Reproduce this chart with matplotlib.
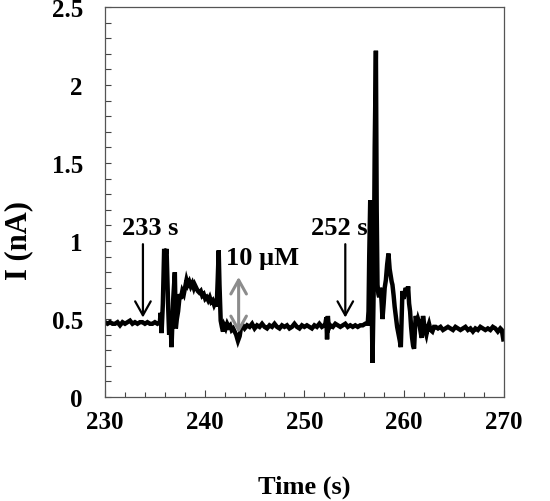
import matplotlib
matplotlib.use("Agg")
import matplotlib.pyplot as plt
from matplotlib.ticker import MultipleLocator

# --- baseline before first injection ---
t_base1 = [230.0, 230.25, 230.5, 230.75, 231.0, 231.25, 231.5, 231.75, 232.0, 232.25,
           232.5, 232.75, 233.0, 233.25, 233.5, 233.75, 234.0, 234.25, 234.5, 234.75,
           235.0, 235.25, 235.5]
i_base1 = [0.48, 0.47, 0.48, 0.47, 0.47, 0.48, 0.46, 0.48, 0.47, 0.48,
           0.49, 0.47, 0.48, 0.47, 0.48, 0.48, 0.47, 0.48, 0.47, 0.47,
           0.48, 0.47, 0.48]
# --- first response ---
t_resp1 = [235.57, 235.67, 235.8, 235.93, 236.05, 236.17, 236.33, 236.43, 236.55, 236.67,
           236.83, 237.0, 237.1, 237.2, 237.33, 237.5, 237.6, 237.75, 237.9, 238.05,
           238.17, 238.3, 238.45, 238.6, 238.75, 238.9, 239.0, 239.15, 239.3, 239.45,
           239.6, 239.75, 239.9, 240.05, 240.2, 240.35, 240.5, 240.65, 240.8, 240.95,
           241.1, 241.2, 241.3, 241.4, 241.48, 241.6, 241.72, 241.83, 241.95, 242.1,
           242.25, 242.4, 242.55, 242.7, 242.85, 243.0, 243.15, 243.33, 243.5, 243.65,
           243.8]
i_resp1 = [0.54, 0.41, 0.60, 0.95, 0.90, 0.95, 0.58, 0.40, 0.50, 0.32,
           0.62, 0.80, 0.44, 0.50, 0.55, 0.66, 0.63, 0.68, 0.66, 0.71,
           0.75, 0.72, 0.74, 0.71, 0.73, 0.70, 0.72, 0.70, 0.68, 0.67,
           0.68, 0.65, 0.66, 0.63, 0.64, 0.62, 0.64, 0.61, 0.62, 0.59,
           0.61, 0.58, 0.75, 0.94, 0.72, 0.49, 0.45, 0.42, 0.46, 0.44,
           0.47, 0.45, 0.46, 0.43, 0.44, 0.42, 0.40, 0.36, 0.39, 0.45,
           0.46]
# --- baseline between injections ---
t_base2 = [244.0, 244.25, 244.5, 244.75, 245.0, 245.25, 245.5, 245.75, 246.0, 246.25,
           246.5, 246.75, 247.0, 247.25, 247.5, 247.75, 248.0, 248.25, 248.5, 248.75,
           249.0, 249.25, 249.5, 249.75, 250.0, 250.25, 250.5, 250.75, 251.0, 251.25,
           251.5, 251.75, 252.0, 252.1, 252.2, 252.27, 252.35, 252.45, 252.6, 252.85,
           253.1, 253.35, 253.6, 253.85, 254.1, 254.35, 254.6, 254.85, 255.1, 255.35,
           255.6, 255.85, 256.1, 256.35]
i_base2 = [0.44, 0.46, 0.45, 0.47, 0.44, 0.46, 0.45, 0.47, 0.45, 0.44,
           0.46, 0.45, 0.47, 0.45, 0.44, 0.46, 0.45, 0.46, 0.44, 0.45,
           0.47, 0.45, 0.44, 0.46, 0.45, 0.46, 0.45, 0.44, 0.46, 0.45,
           0.47, 0.45, 0.46, 0.47, 0.51, 0.37, 0.52, 0.44, 0.46, 0.45,
           0.47, 0.46, 0.45, 0.46, 0.47, 0.45, 0.46, 0.45, 0.46, 0.45,
           0.46, 0.46, 0.47, 0.47]
# --- second response ---
t_resp2 = [256.43, 256.5, 256.6, 256.7, 256.83, 256.95, 257.05, 257.17, 257.25, 257.33,
           257.42, 257.5, 257.58, 257.67, 257.75, 257.83, 257.95, 258.05, 258.17, 258.3,
           258.43, 258.55, 258.67, 258.75, 258.83, 258.95, 259.05, 259.17, 259.3, 259.45,
           259.57, 259.67, 259.75, 259.83, 259.95, 260.05, 260.17, 260.3, 260.4, 260.5,
           260.6, 260.7, 260.8, 260.9, 261.0, 261.1, 261.17, 261.3, 261.4, 261.5,
           261.6, 261.7, 261.77, 261.9, 262.0, 262.1, 262.23, 262.35, 262.5, 262.65,
           262.83, 263.0, 263.17]
i_resp2 = [0.55, 0.90, 1.26, 0.80, 0.22, 0.70, 1.60, 2.22, 1.20, 0.72,
           0.66, 0.64, 0.70, 0.68, 0.60, 0.50, 0.60, 0.70, 0.75, 0.85,
           0.92, 0.82, 0.77, 0.74, 0.72, 0.65, 0.58, 0.52, 0.45, 0.40,
           0.36, 0.32, 0.50, 0.68, 0.63, 0.66, 0.70, 0.65, 0.71, 0.60,
           0.55, 0.45, 0.38, 0.33, 0.31, 0.45, 0.52, 0.47, 0.50, 0.48,
           0.44, 0.40, 0.38, 0.52, 0.47, 0.43, 0.40, 0.44, 0.47, 0.43,
           0.42, 0.45, 0.45]
# --- final baseline ---
t_base3 = [263.4, 263.65, 263.9, 264.15, 264.4, 264.65, 264.9, 265.15, 265.4, 265.65,
           265.9, 266.15, 266.4, 266.65, 266.9, 267.15, 267.4, 267.65, 267.9, 268.15,
           268.4, 268.65, 268.9, 269.15, 269.4, 269.65, 269.8, 269.95]
i_base3 = [0.44, 0.45, 0.43, 0.44, 0.45, 0.44, 0.43, 0.45, 0.44, 0.43,
           0.44, 0.45, 0.43, 0.44, 0.42, 0.44, 0.43, 0.45, 0.44, 0.43,
           0.44, 0.43, 0.45, 0.44, 0.42, 0.44, 0.43, 0.37]

time_s = t_base1 + t_resp1 + t_base2 + t_resp2 + t_base3
current_nA = i_base1 + i_resp1 + i_base2 + i_resp2 + i_base3

arrow_labels = ["233 s", "252 s"]
arrow_times = [233.8, 254.1]
label_times = [234.5, 253.5]
dose_label = "10 µM"
dose_time = 243.4
dose_label_time = 245.8

plt.rcParams['font.family'] = ['Liberation Serif', 'DejaVu Serif']
plt.rcParams['font.weight'] = 'bold'

fig = plt.figure(figsize=(5.5, 5.02), dpi=100)
ax = fig.add_axes([0.191, 0.207, 0.725, 0.777])

ax.plot(time_s, current_nA, color='black', lw=3.2, solid_joinstyle='miter')

for lab, t, tl in zip(arrow_labels, arrow_times, label_times):
    ax.annotate('', xy=(t, 0.51), xytext=(t, 0.98),
                arrowprops=dict(arrowstyle='->,head_length=0.5,head_width=0.28',
                                mutation_scale=20, color='black', lw=1.6,
                                shrinkA=0, shrinkB=0))
    ax.text(tl, 1.085, lab, ha='center', va='center', fontsize=19, fontweight='bold')

ax.annotate('', xy=(dose_time, 0.41), xytext=(dose_time, 0.77),
            arrowprops=dict(arrowstyle='<->,head_length=0.5,head_width=0.28',
                            mutation_scale=20, color='#8c8c8c', lw=2.2,
                            shrinkA=0, shrinkB=0))
ax.text(dose_label_time, 0.895, dose_label, ha='center', va='center',
        fontsize=19, fontweight='bold')

ax.set_xlim(230, 270)
ax.set_ylim(0, 2.5)
ax.xaxis.set_major_locator(MultipleLocator(10))
ax.xaxis.set_minor_locator(MultipleLocator(2))
ax.yaxis.set_minor_locator(MultipleLocator(0.1))
ax.set_yticks([0, 0.5, 1, 1.5, 2, 2.5])
ax.set_yticklabels(['0', '0.5', '1', '1.5', '2', '2.5'])
ax.tick_params(axis='x', which='major', direction='in', length=5, width=0.8,
               pad=9, labelsize=18, colors='#444444', labelcolor='black')
ax.tick_params(axis='x', which='minor', direction='in', length=3.5, width=0.8,
               colors='#444444')
ax.tick_params(axis='y', which='both', direction='in', length=4, width=0.8,
               pad=16, labelsize=18, colors='#444444', labelcolor='black')
for lab in ax.get_xticklabels() + ax.get_yticklabels():
    lab.set_fontweight('bold')
for sp in ax.spines.values():
    sp.set_color('#555555')
    sp.set_linewidth(0.9)

ax.set_xlabel('Time (s)', fontsize=19, fontweight='bold', labelpad=30)
ax.set_ylabel('I (nA)', fontsize=22, fontweight='bold', va='center')
ax.yaxis.set_label_coords(-0.2175, 0.405)

fig.savefig('out.png', dpi=100)
